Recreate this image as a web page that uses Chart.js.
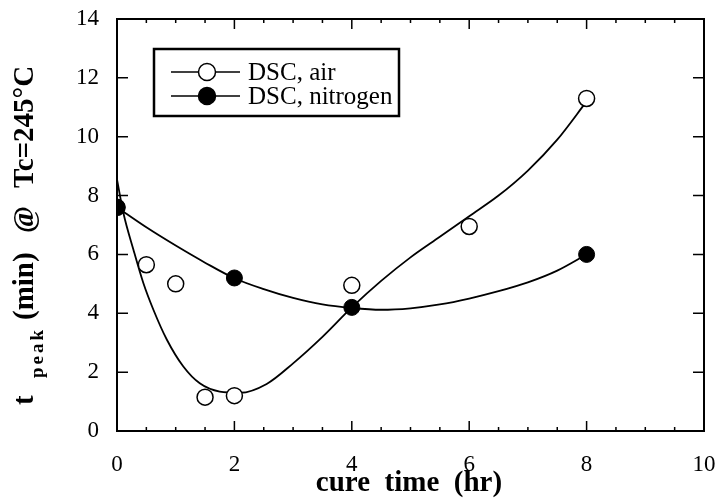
<!DOCTYPE html>
<html>
<head>
<meta charset="utf-8">
<script src="https://cdn.jsdelivr.net/npm/chart.js@4"></script>
<style>
  html, body { margin: 0; padding: 0; background: #fff; }
  #wrap { width: 719px; height: 500px; }
</style>
</head>
<body>
<div id="wrap"><canvas id="chart" width="719" height="500"></canvas></div>
<script>
// measured points
const airX = [0, 0.5, 1, 1.5, 2, 4, 6, 8];
const airY = [7.6, 5.65, 5.0, 1.15, 1.2, 4.95, 6.95, 11.3];
const n2X = [0, 2, 4, 8];
const n2Y = [7.6, 5.2, 4.2, 6.0];

// fit curves
const airFitX = [0, 0.11, 0.28, 0.45, 0.62, 0.85, 1.13, 1.41, 1.75, 2.1, 2.55, 3.0, 3.5, 4.0, 4.5, 5.0, 5.5, 6.0, 6.5, 7.0, 7.5, 8.0];
const airFitY = [8.55, 7.4, 6.16, 5.02, 4.12, 3.1, 2.19, 1.62, 1.34, 1.3, 1.6, 2.3, 3.2, 4.2, 5.1, 5.9, 6.6, 7.3, 8.0, 8.85, 9.9, 11.2];
const n2FitX = [0, 0.5, 1, 1.5, 2, 2.5, 3, 3.5, 4, 4.5, 5, 5.5, 6, 6.5, 7, 7.5, 8];
const n2FitY = [7.6, 6.92, 6.3, 5.72, 5.19, 4.82, 4.52, 4.3, 4.18, 4.12, 4.17, 4.3, 4.5, 4.75, 5.05, 5.45, 6.0];

const xTicks = [0, 2, 4, 6, 8, 10];
const yTicks = [0, 2, 4, 6, 8, 10, 12, 14];

const legendLabels = ['DSC, air', 'DSC, nitrogen'];

const SERIF = "'Liberation Serif', 'Times New Roman', 'DejaVu Serif', serif";

function pts(xs, ys) {
    return xs.map((x, i) => ({ x: x, y: ys[i] }));
}

// frame + inward ticks
const framePlugin = {
    id: 'frame',
    afterDatasetsDraw(chart) {
        const { ctx, chartArea: a, scales } = chart;
        const sx = scales.x, sy = scales.y;
        ctx.save();
        ctx.strokeStyle = '#000';
        ctx.lineWidth = 1.5;
        ctx.beginPath();
        for (let v = 0.5; v < 10; v += 0.5) {
            const px = sx.getPixelForValue(v);
            const len = (v % 2 === 0) ? 10 : 4;
            ctx.moveTo(px, a.bottom); ctx.lineTo(px, a.bottom - len);
            ctx.moveTo(px, a.top); ctx.lineTo(px, a.top + len);
        }
        for (let v = 2; v < 14; v += 2) {
            const py = sy.getPixelForValue(v);
            ctx.moveTo(a.left, py); ctx.lineTo(a.left + 11, py);
            ctx.moveTo(a.right, py); ctx.lineTo(a.right - 11, py);
        }
        ctx.stroke();
        ctx.lineWidth = 2;
        ctx.strokeRect(a.left, a.top, a.right - a.left, a.bottom - a.top);
        ctx.restore();
    }
};

// legend box
const legendPlugin = {
    id: 'boxLegend',
    afterDraw(chart) {
        const ctx = chart.ctx;
        ctx.save();
        ctx.strokeStyle = '#000';
        ctx.lineWidth = 2.5;
        ctx.strokeRect(154, 49, 245, 67);
        const rows = [72, 96];
        rows.forEach((ry, i) => {
            ctx.lineWidth = 1.3;
            ctx.beginPath();
            ctx.moveTo(171, ry); ctx.lineTo(240, ry);
            ctx.stroke();
            ctx.beginPath();
            ctx.arc(207, ry, 8.5, 0, Math.PI * 2);
            ctx.fillStyle = i === 0 ? '#fff' : '#000';
            ctx.fill();
            ctx.lineWidth = 1.5;
            ctx.stroke();
            ctx.fillStyle = '#000';
            ctx.font = '25px ' + SERIF;
            ctx.textAlign = 'left';
            ctx.textBaseline = 'middle';
            ctx.fillText(legendLabels[i], 248, ry + 1);
        });
        ctx.restore();
    }
};

// axis titles
const titlePlugin = {
    id: 'titles',
    afterDraw(chart) {
        const ctx = chart.ctx;
        ctx.save();
        ctx.fillStyle = '#000';
        ctx.font = 'bold 29px ' + SERIF;
        ctx.textAlign = 'center';
        ctx.textBaseline = 'middle';
        ctx.fillText('cure  time  (hr)', 409, 484);

        // rotated y title, drawn piece by piece
        function piece(txt, y, x, font, spacing) {
            ctx.save();
            ctx.translate(x, y);
            ctx.rotate(-Math.PI / 2);
            ctx.font = font;
            ctx.textAlign = 'left';
            ctx.textBaseline = 'alphabetic';
            if (spacing) {
                let off = 0;
                for (const ch of txt) {
                    ctx.fillText(ch, off, 0);
                    off += ctx.measureText(ch).width + spacing;
                }
            } else {
                ctx.fillText(txt, 0, 0);
            }
            ctx.restore();
        }
        const big = 'bold 29px ' + SERIF;
        piece('t', 405, 33, big);
        piece('peak', 378, 43, 'bold 19px ' + SERIF, 3);
        piece('(min)', 320, 33, big);
        piece('@', 233, 33, big);
        piece('Tc=245°C', 188, 33, big);
        ctx.restore();
    }
};

// keep the plot box where the reference has it
function noPad(s) {
    s.paddingLeft = 0; s.paddingRight = 0;
    s.paddingTop = 0; s.paddingBottom = 0;
}

const ctx = document.getElementById('chart').getContext('2d');
new Chart(ctx, {
    type: 'scatter',
    data: {
        datasets: [
            {
                label: 'nitrogen',
                data: pts(n2X, n2Y),
                pointRadius: 8,
                pointBackgroundColor: '#000',
                pointBorderColor: '#000',
                pointBorderWidth: 1,
                order: 0
            },
            {
                label: 'air',
                data: pts(airX, airY),
                pointRadius: 8,
                pointBackgroundColor: '#fff',
                pointBorderColor: '#000',
                pointBorderWidth: 1.5,
                order: 1
            },
            {
                label: 'air fit',
                data: pts(airFitX, airFitY),
                showLine: true,
                pointRadius: 0,
                borderColor: '#000',
                borderWidth: 1.8,
                cubicInterpolationMode: 'monotone',
                order: 2
            },
            {
                label: 'nitrogen fit',
                data: pts(n2FitX, n2FitY),
                showLine: true,
                pointRadius: 0,
                borderColor: '#000',
                borderWidth: 1.8,
                cubicInterpolationMode: 'monotone',
                order: 2
            }
        ]
    },
    options: {
        responsive: false,
        animation: false,
        layout: { padding: { top: 19, right: 15, left: 0, bottom: 0 } },
        plugins: {
            legend: { display: false },
            tooltip: { enabled: false }
        },
        scales: {
            x: {
                type: 'linear',
                min: 0,
                max: 10,
                afterBuildTicks: (s) => { s.ticks = xTicks.map(v => ({ value: v })); },
                afterFit: (s) => { s.height = 69; noPad(s); },
                grid: { display: false, drawTicks: false },
                border: { display: false },
                ticks: { color: '#000', padding: 20, font: { family: SERIF, size: 23 } }
            },
            y: {
                type: 'linear',
                min: 0,
                max: 14,
                afterBuildTicks: (s) => { s.ticks = yTicks.map(v => ({ value: v })); },
                afterFit: (s) => { s.width = 117; noPad(s); },
                grid: { display: false, drawTicks: false },
                border: { display: false },
                ticks: { color: '#000', padding: 18, font: { family: SERIF, size: 23 } }
            }
        }
    },
    plugins: [framePlugin, legendPlugin, titlePlugin]
});
</script>
</body>
</html>
